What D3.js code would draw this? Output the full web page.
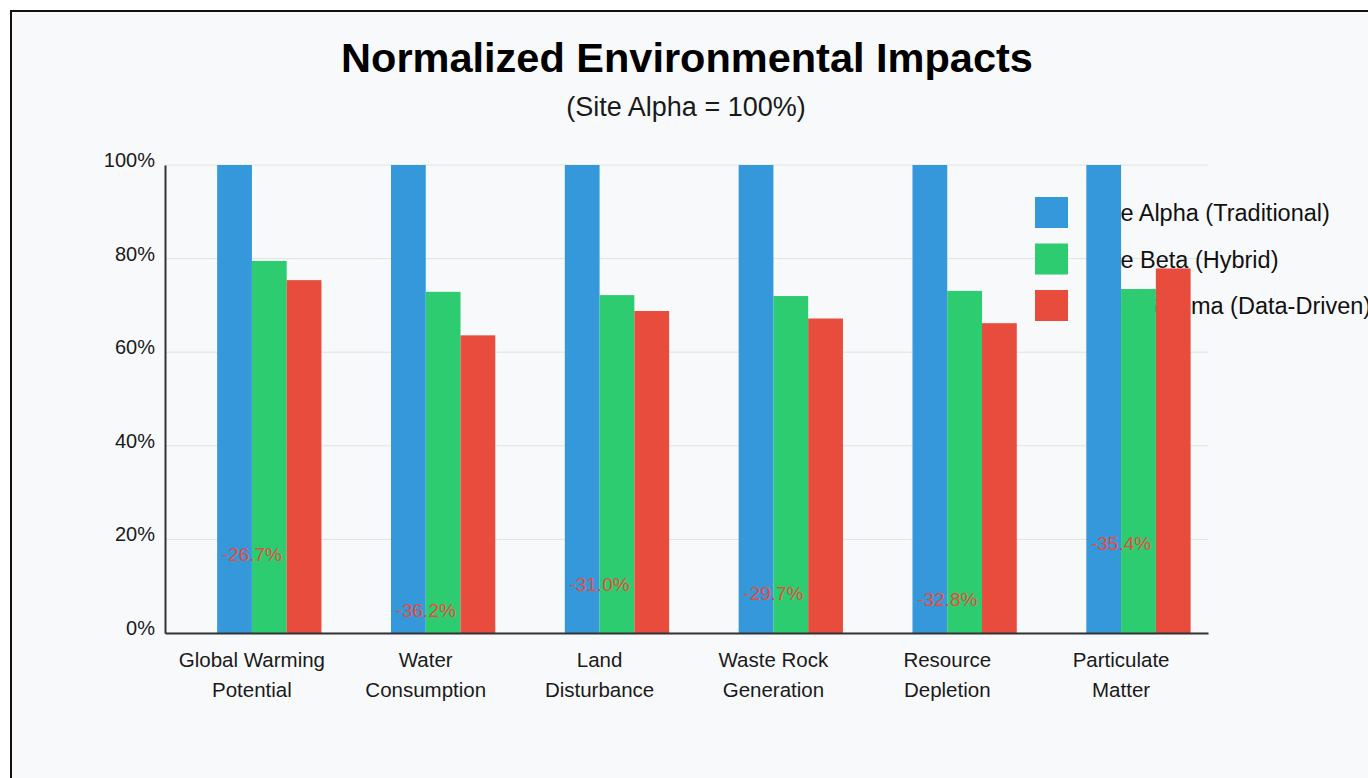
<!DOCTYPE html>
<html>
<head>
<meta charset="utf-8">
<script src="https://cdnjs.cloudflare.com/ajax/libs/d3/7.8.5/d3.min.js"></script>
<style>
  html, body { margin: 0; padding: 0; background: #ffffff; overflow: hidden; }
  #frame { position: absolute; left: 10px; top: 10px; width: 1400px; height: 800px;
           background: #f8f9fa; border: 2px solid #111; box-sizing: border-box; }
  svg { position: absolute; left: 0; top: 0; }
  text { font-family: "Liberation Sans", Arial, sans-serif; }
</style>
</head>
<body>
<div id="frame"></div>
<svg id="chart" width="1368" height="778"></svg>
<script>
// ---- data ----
const categories = [
  ["Global Warming", "Potential"],
  ["Water", "Consumption"],
  ["Land", "Disturbance"],
  ["Waste Rock", "Generation"],
  ["Resource", "Depletion"],
  ["Particulate", "Matter"]
];
const seriesNames = ["Site Alpha (Traditional)", "Site Beta (Hybrid)", "Site Gamma (Data-Driven)"];
const alphaValues = [100, 100, 100, 100, 100, 100];
const betaValues  = [79.5, 72.9, 72.2, 72.0, 73.1, 73.5];
const gammaValues = [75.4, 63.6, 68.8, 67.2, 66.2, 77.9];
const reductionLabels = ["-26.7%", "-36.2%", "-31.0%", "-29.7%", "-32.8%", "-35.4%"];
const reductionLabelLevels = [15.4, 3.4, 9.0, 7.0, 5.8, 17.7];
const yTicks = [0, 20, 40, 60, 80, 100];

const colors = ["#3498db", "#2ecc71", "#e74c3c"];
const svg = d3.select("#chart");

const plotL = 165, plotR = 1208, plotT = 165, plotB = 633;
const catKeys = categories.map(c => c.join(" "));
const x0 = d3.scaleBand().domain(catKeys).range([plotL, plotR]).padding(0);
const bw = x0.bandwidth();
const x1 = d3.scaleBand().domain(seriesNames).range([bw / 2 - bw * 0.2, bw / 2 + bw * 0.4]);
const y = d3.scaleLinear().domain([0, 100]).range([plotB, plotT]);
const color = d3.scaleOrdinal().domain(seriesNames).range(colors);

// title
svg.append("text").attr("x", 687).attr("y", 72)
  .attr("text-anchor", "middle").attr("font-size", 41.5).attr("font-weight", "bold")
  .attr("fill", "#000").text("Normalized Environmental Impacts");
svg.append("text").attr("x", 686).attr("y", 116)
  .attr("text-anchor", "middle").attr("font-size", 27)
  .attr("fill", "#1a1a1a").text("(Site Alpha = 100%)");

// grid
svg.append("g").selectAll("line").data(yTicks).join("line")
  .attr("x1", plotL).attr("x2", plotR)
  .attr("y1", d => y(d)).attr("y2", d => y(d))
  .attr("stroke", "#e3e3e3").attr("stroke-width", 1);

// y axis
const yAxis = svg.append("g").attr("transform", `translate(${plotL},0)`)
  .call(d3.axisLeft(y).tickValues(yTicks).tickFormat(d => d + "%").tickSize(0).tickPadding(10));
yAxis.select(".domain").attr("stroke", "#333").attr("stroke-width", 2);
yAxis.selectAll("text").attr("font-size", 20).attr("fill", "#1a1a1a").attr("dy", "0.07em")
  .attr("font-family", "Liberation Sans, Arial, sans-serif");

// legend (drawn beneath bars)
const legend = svg.append("g");
seriesNames.forEach((name, i) => {
  const g = legend.append("g").attr("transform", `translate(1035,${197 + i * 46.5})`);
  g.append("rect").attr("width", 33).attr("height", 31).attr("fill", colors[i]);
  g.append("text").attr("x", 58).attr("y", 16).attr("dy", "0.35em")
    .attr("font-size", 23.5).attr("fill", "#111").text(name);
});

// bars
const rows = catKeys.map((k, i) => ({ key: k, values: [alphaValues[i], betaValues[i], gammaValues[i]] }));
const groups = svg.append("g").selectAll("g").data(rows).join("g")
  .attr("transform", d => `translate(${x0(d.key)},0)`);
groups.selectAll("rect").data(d => d.values.map((v, j) => ({ name: seriesNames[j], v })))
  .join("rect")
  .attr("x", d => x1(d.name)).attr("width", x1.bandwidth())
  .attr("y", d => y(d.v)).attr("height", d => y(0) - y(d.v))
  .attr("fill", d => color(d.name));

// x axis
const xAxis = svg.append("g").attr("transform", `translate(0,${plotB})`)
  .call(d3.axisBottom(x0).tickSize(0).tickFormat(""));
xAxis.select(".domain").attr("stroke", "#333").attr("stroke-width", 2);

// category labels
const labels = svg.append("g").selectAll("text").data(categories).join("text")
  .attr("x", (d, i) => x0(catKeys[i]) + bw / 2).attr("y", 667)
  .attr("text-anchor", "middle").attr("font-size", 20.5).attr("fill", "#1a1a1a");
labels.each(function (d) {
  const t = d3.select(this);
  d.forEach((line, j) => {
    t.append("tspan").attr("x", t.attr("x")).attr("dy", j === 0 ? 0 : 30).text(line);
  });
});

// reduction annotations
svg.append("g").selectAll("text").data(reductionLabels).join("text")
  .attr("x", (d, i) => x0(catKeys[i]) + bw / 2)
  .attr("y", (d, i) => y(reductionLabelLevels[i]))
  .attr("text-anchor", "middle").attr("font-size", 19).attr("fill", "#e74c3c")
  .text(d => d);
</script>
</body>
</html>
